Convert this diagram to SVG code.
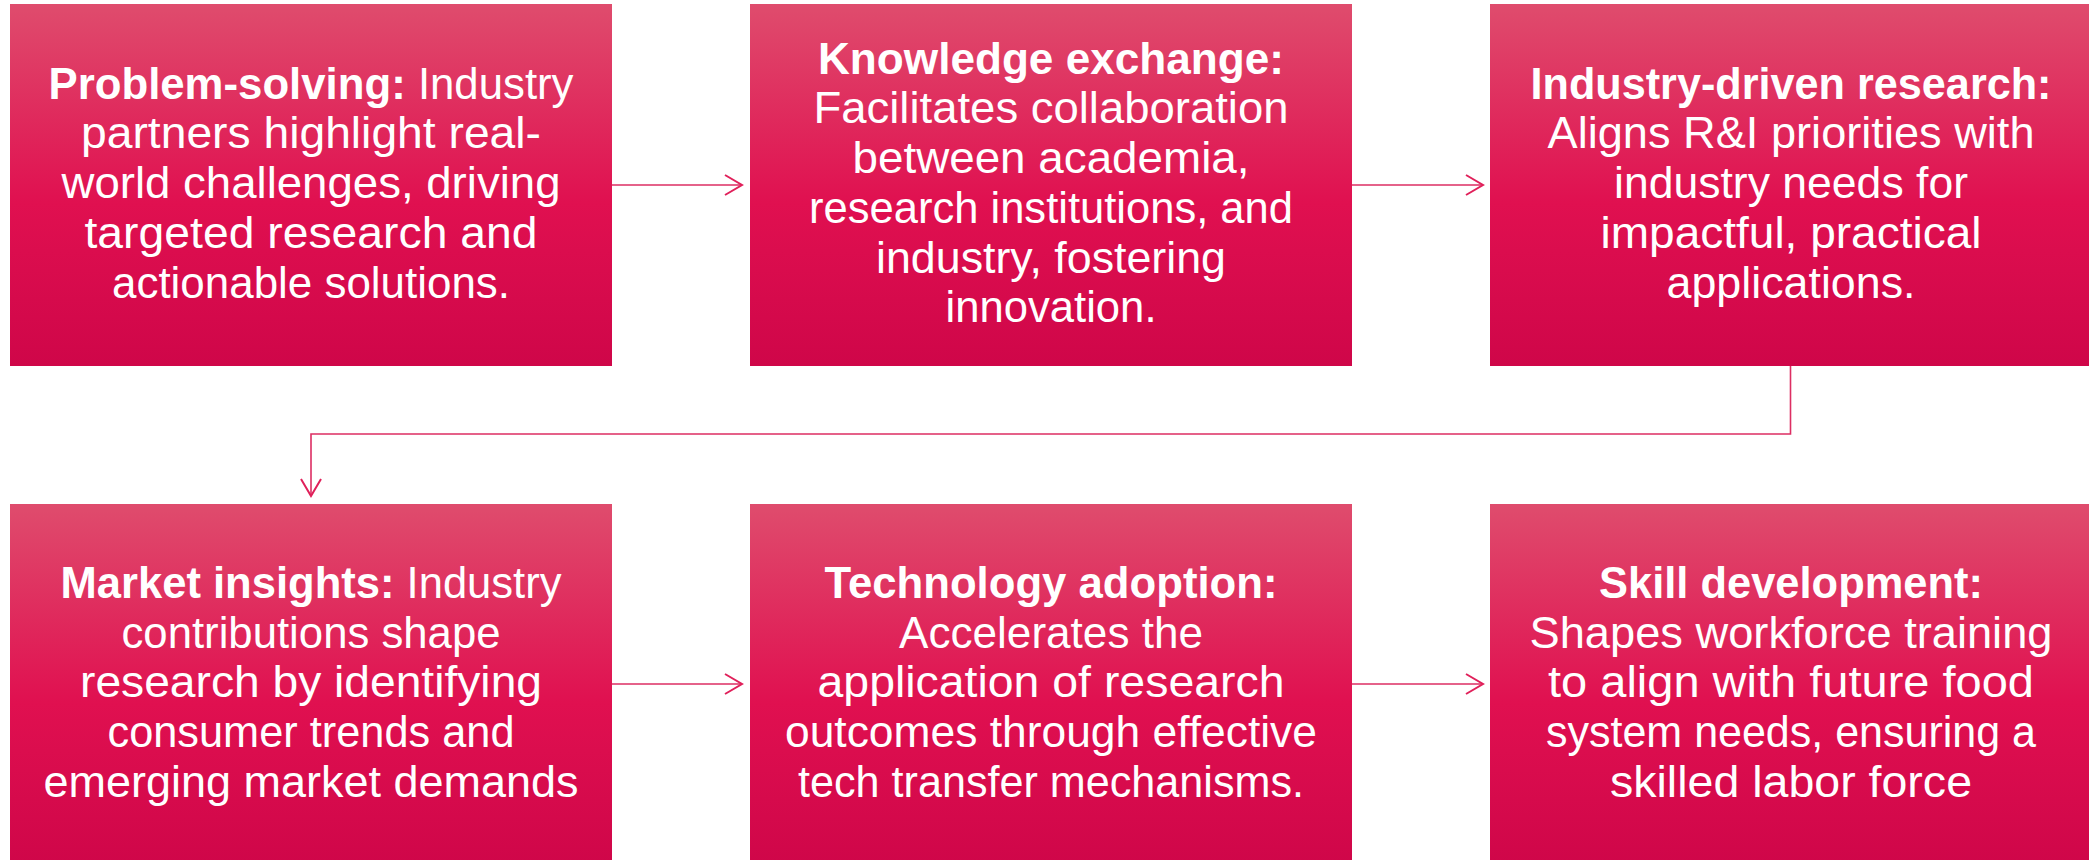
<svg xmlns="http://www.w3.org/2000/svg" width="2089" height="860" viewBox="0 0 2089 860">
<style>
.box{fill:url(#g)}
.t{font-family:"Liberation Sans",Arial,sans-serif;font-size:44px;fill:#ffffff;text-anchor:middle}
.b{font-weight:bold}
.c{fill:none;stroke:#dd2e63;stroke-width:1.6}
</style>
<defs>
<linearGradient id="g" x1="0" y1="0" x2="0" y2="1">
<stop offset="0" stop-color="#df4c6d"/>
<stop offset="0.55" stop-color="#e01050"/>
<stop offset="1" stop-color="#cf0649"/>
</linearGradient>
<marker id="ah" markerUnits="userSpaceOnUse" viewBox="-19 -12 21 24" markerWidth="21" markerHeight="24" refX="0" refY="0" orient="auto">
<path d="M-17,-10 L0,0 L-17,10" fill="none" stroke="#e0205a" stroke-width="2"/>
</marker>
</defs>
<g id="connectors">
<path class="c" d="M612,185 H742" marker-end="url(#ah)"/>
<path class="c" d="M1352,185 H1483" marker-end="url(#ah)"/>
<path class="c" d="M1790.5,366 V434 H311 V496" marker-end="url(#ah)"/>
<path class="c" d="M612,684 H742" marker-end="url(#ah)"/>
<path class="c" d="M1352,684 H1483" marker-end="url(#ah)"/>
</g>
<g id="node-problem-solving">
<rect class="box" x="10" y="4" width="602" height="362"/>
<text class="t" x="311" y="99" textLength="525" lengthAdjust="spacingAndGlyphs"><tspan class="b">Problem-solving:</tspan> Industry</text>
<text class="t" x="311" y="148" textLength="460" lengthAdjust="spacingAndGlyphs">partners highlight real-</text>
<text class="t" x="311" y="198" textLength="499" lengthAdjust="spacingAndGlyphs">world challenges, driving</text>
<text class="t" x="311" y="248" textLength="453" lengthAdjust="spacingAndGlyphs">targeted research and</text>
<text class="t" x="311" y="298" textLength="398" lengthAdjust="spacingAndGlyphs">actionable solutions.</text>
</g>
<g id="node-knowledge-exchange">
<rect class="box" x="750" y="4" width="602" height="362"/>
<text class="t b" x="1051" y="74" textLength="466" lengthAdjust="spacingAndGlyphs">Knowledge exchange:</text>
<text class="t" x="1051" y="123" textLength="475" lengthAdjust="spacingAndGlyphs">Facilitates collaboration</text>
<text class="t" x="1051" y="173" textLength="397" lengthAdjust="spacingAndGlyphs">between academia,</text>
<text class="t" x="1051" y="223" textLength="484" lengthAdjust="spacingAndGlyphs">research institutions, and</text>
<text class="t" x="1051" y="273" textLength="350" lengthAdjust="spacingAndGlyphs">industry, fostering</text>
<text class="t" x="1051" y="322" textLength="211" lengthAdjust="spacingAndGlyphs">innovation.</text>
</g>
<g id="node-industry-driven-research">
<rect class="box" x="1490" y="4" width="600" height="362"/>
<text class="t b" x="1791" y="99" textLength="521" lengthAdjust="spacingAndGlyphs">Industry-driven research:</text>
<text class="t" x="1791" y="148" textLength="487" lengthAdjust="spacingAndGlyphs">Aligns R&amp;I priorities with</text>
<text class="t" x="1791" y="198" textLength="354" lengthAdjust="spacingAndGlyphs">industry needs for</text>
<text class="t" x="1791" y="248" textLength="381" lengthAdjust="spacingAndGlyphs">impactful, practical</text>
<text class="t" x="1791" y="298" textLength="249" lengthAdjust="spacingAndGlyphs">applications.</text>
</g>
<g id="node-market-insights">
<rect class="box" x="10" y="504" width="602" height="362"/>
<text class="t" x="311" y="598" textLength="501" lengthAdjust="spacingAndGlyphs"><tspan class="b">Market insights:</tspan> Industry</text>
<text class="t" x="311" y="648" textLength="379" lengthAdjust="spacingAndGlyphs">contributions shape</text>
<text class="t" x="311" y="697" textLength="462" lengthAdjust="spacingAndGlyphs">research by identifying</text>
<text class="t" x="311" y="747" textLength="407" lengthAdjust="spacingAndGlyphs">consumer trends and</text>
<text class="t" x="311" y="797" textLength="535" lengthAdjust="spacingAndGlyphs">emerging market demands</text>
</g>
<g id="node-technology-adoption">
<rect class="box" x="750" y="504" width="602" height="362"/>
<text class="t b" x="1051" y="598" textLength="453" lengthAdjust="spacingAndGlyphs">Technology adoption:</text>
<text class="t" x="1051" y="648" textLength="304" lengthAdjust="spacingAndGlyphs">Accelerates the</text>
<text class="t" x="1051" y="697" textLength="467" lengthAdjust="spacingAndGlyphs">application of research</text>
<text class="t" x="1051" y="747" textLength="532" lengthAdjust="spacingAndGlyphs">outcomes through effective</text>
<text class="t" x="1051" y="797" textLength="506" lengthAdjust="spacingAndGlyphs">tech transfer mechanisms.</text>
</g>
<g id="node-skill-development">
<rect class="box" x="1490" y="504" width="600" height="362"/>
<text class="t b" x="1791" y="598" textLength="384" lengthAdjust="spacingAndGlyphs">Skill development:</text>
<text class="t" x="1791" y="648" textLength="523" lengthAdjust="spacingAndGlyphs">Shapes workforce training</text>
<text class="t" x="1791" y="697" textLength="486" lengthAdjust="spacingAndGlyphs">to align with future food</text>
<text class="t" x="1791" y="747" textLength="490" lengthAdjust="spacingAndGlyphs">system needs, ensuring a</text>
<text class="t" x="1791" y="797" textLength="362" lengthAdjust="spacingAndGlyphs">skilled labor force</text>
</g>
</svg>
